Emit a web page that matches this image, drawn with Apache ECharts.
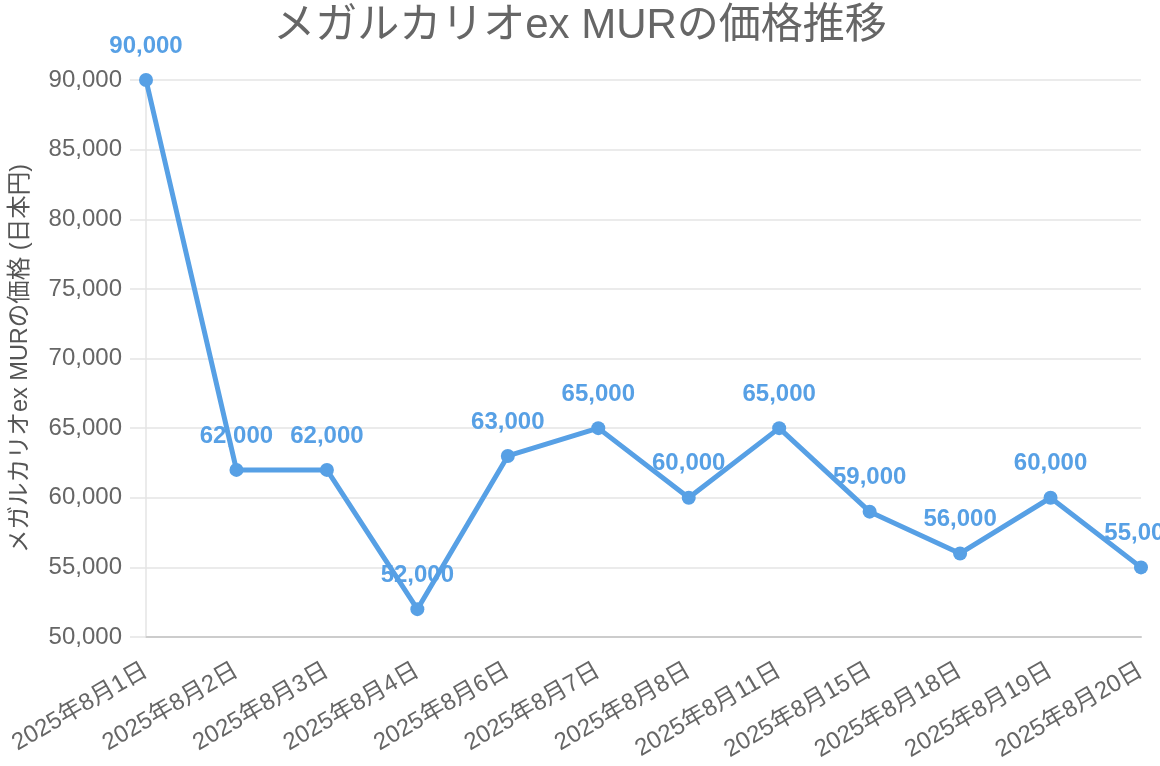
<!DOCTYPE html>
<html>
<head>
<meta charset="utf-8">
<title>メガルカリオex MURの価格推移</title>
<script src="https://cdn.jsdelivr.net/npm/echarts@6/dist/echarts.min.js"></script>
<style>
  html, body { margin: 0; padding: 0; background: #fff; }
  #main { width: 1160px; height: 766px; }
</style>
</head>
<body>
<div id="main"></div>
<script>
// データ
const dates = [
  "2025年8月1日", "2025年8月2日", "2025年8月3日", "2025年8月4日",
  "2025年8月6日", "2025年8月7日", "2025年8月8日", "2025年8月11日",
  "2025年8月15日", "2025年8月18日", "2025年8月19日", "2025年8月20日"
];
const prices = [90000, 62000, 62000, 52000, 63000, 65000, 60000, 65000, 59000, 56000, 60000, 55000];

const FONT = "'Liberation Sans', Arial, 'Noto Sans CJK JP', sans-serif";
const BLUE = "#57a0e5";

const fmt = (v) => v.toLocaleString("en-US");

const chart = echarts.init(document.getElementById("main"));
chart.setOption({
  animation: false,
  title: {
    text: "メガルカリオex MURの価格推移",
    left: "center",
    top: 0,
    textStyle: { fontFamily: FONT, fontSize: 42, fontWeight: "normal", color: "#666" }
  },
  grid: { left: 146, right: 19, top: 80, bottom: 129, containLabel: false },
  xAxis: {
    type: "category",
    data: dates,
    boundaryGap: false,
    axisLine: { lineStyle: { color: "#ccc", width: 2 } },
    axisTick: { show: false },
    axisLabel: {
      rotate: 30,
      interval: 0,
      margin: 32,
      fontFamily: FONT,
      fontSize: 24,
      color: "#666"
    },
    splitLine: { show: false }
  },
  yAxis: {
    type: "value",
    min: 50000,
    max: 90000,
    interval: 5000,
    name: "メガルカリオex MURの価格 (日本円)",
    nameLocation: "middle",
    nameGap: 114,
    nameTextStyle: { fontFamily: FONT, fontSize: 23.5, color: "#555" },
    axisLine: { show: true, lineStyle: { color: "#e5e5e5", width: 1.5 } },
    axisTick: { show: true, length: 16, lineStyle: { color: "#e5e5e5", width: 1.5 } },
    axisLabel: {
      margin: 24,
      fontFamily: FONT,
      fontSize: 24,
      color: "#666",
      formatter: fmt
    },
    splitLine: { lineStyle: { color: "#e5e5e5", width: 1.5 } }
  },
  series: [{
    type: "line",
    data: prices,
    symbol: "circle",
    symbolSize: 14,
    lineStyle: { color: BLUE, width: 5 },
    itemStyle: { color: BLUE },
    label: {
      show: true,
      position: "top",
      distance: 15,
      fontFamily: FONT,
      fontSize: 24,
      fontWeight: "bold",
      color: BLUE,
      formatter: (p) => fmt(p.value)
    }
  }]
});
</script>
</body>
</html>
